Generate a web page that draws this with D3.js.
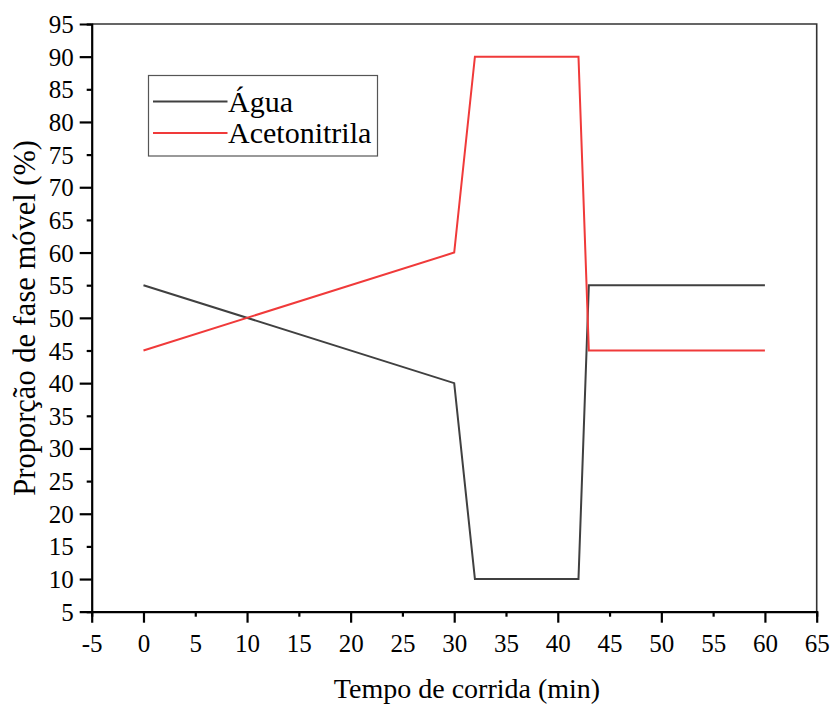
<!DOCTYPE html>
<html>
<head>
<meta charset="utf-8">
<script src="https://cdn.jsdelivr.net/npm/d3@7/dist/d3.min.js"></script>
<style>
  body { margin: 0; background: #fff; }
  svg text { font-family: "Liberation Serif", "Times New Roman", serif; fill: #000; }
</style>
</head>
<body>
<div id="chart"></div>
<script>
// gradient program data
var tempo = [0, 30, 32, 42, 43, 60];
var agua = [55, 40, 10, 10, 55, 55];
var acetonitrila = [45, 60, 90, 90, 45, 45];
var seriesNames = ['Água', 'Acetonitrila'];
var seriesColors = ['#404040', '#f03a3a'];
var xTicks = d3.range(-5, 66, 5);
var yTicks = d3.range(5, 96, 5);

var width = 831,
    height = 706,
    margin = {top: 24, right: 14.3, bottom: 94.3, left: 91.7};

var svg = d3.select('#chart').append('svg')
    .attr('width', width)
    .attr('height', height);

var x = d3.scaleLinear().domain([-5, 65]).range([margin.left, width - margin.right]);
var y = d3.scaleLinear().domain([5, 95]).range([height - margin.bottom, margin.top]);

// frame (top and right)
svg.append('path')
    .attr('d', 'M' + x(-5) + ',' + y(95) + 'H' + x(65) + 'V' + y(5))
    .attr('fill', 'none')
    .attr('stroke', '#333')
    .attr('stroke-width', 1.6);

// axes
var fmt = function(d) { return String(d); };

var xAxis = svg.append('g')
    .attr('transform', 'translate(0,' + y(5) + ')')
    .call(d3.axisBottom(x).tickValues(xTicks).tickFormat(fmt).tickSizeOuter(0).tickPadding(12)
        .tickSize(11));
xAxis.selectAll('.tick line').attr('y2', function(d) { return d % 10 === 0 ? 11 : 5; });

var yAxis = svg.append('g')
    .attr('transform', 'translate(' + x(-5) + ',0)')
    .call(d3.axisLeft(y).tickValues(yTicks).tickFormat(fmt).tickSizeOuter(0).tickPadding(6)
        .tickSize(12));
yAxis.selectAll('.tick line').attr('x2', function(d) { return d % 10 === 0 ? -12 : -5; });

[xAxis, yAxis].forEach(function(a) {
    a.attr('font-family', 'Liberation Serif').attr('font-size', 25);
    a.select('.domain').attr('stroke', '#000').attr('stroke-width', 2.2);
    a.selectAll('.tick line').attr('stroke', '#000').attr('stroke-width', 2.2);
});
xAxis.selectAll('.tick text').attr('dy', '0.71em');
yAxis.selectAll('.tick text').attr('dy', '0.34em');

// axis titles
svg.append('text')
    .attr('x', 467)
    .attr('y', 698)
    .attr('text-anchor', 'middle')
    .attr('font-size', 28)
    .text('Tempo de corrida (min)');

svg.append('text')
    .attr('transform', 'translate(35,' + ((y(5) + y(95)) / 2) + ') rotate(-90)')
    .attr('text-anchor', 'middle')
    .attr('font-size', 30.5)
    .text('Proporção de fase móvel (%)');

// lines
var line = d3.line()
    .x(function(d, i) { return x(tempo[i]); })
    .y(function(d) { return y(d); });

[agua, acetonitrila].forEach(function(s, i) {
    svg.append('path')
        .datum(s)
        .attr('fill', 'none')
        .attr('stroke', seriesColors[i])
        .attr('stroke-width', 2)
        .attr('d', line);
});

// legend
var legend = svg.append('g').attr('transform', 'translate(148.5,75.5)');
legend.append('rect')
    .attr('width', 229)
    .attr('height', 80.5)
    .attr('fill', '#fff')
    .attr('stroke', '#555')
    .attr('stroke-width', 1.2);

seriesNames.forEach(function(name, i) {
    var ly = 26 + i * 31.6;
    legend.append('line')
        .attr('x1', 4.5).attr('x2', 79)
        .attr('y1', ly).attr('y2', ly)
        .attr('stroke', seriesColors[i])
        .attr('stroke-width', 2);
    legend.append('text')
        .attr('x', 79.5)
        .attr('y', ly + 10)
        .attr('font-size', 30)
        .text(name);
});
</script>
</body>
</html>
